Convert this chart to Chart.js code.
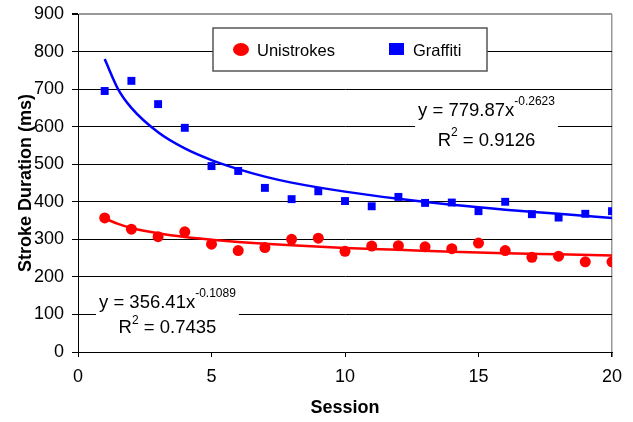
<!DOCTYPE html>
<html>
<head>
<meta charset="utf-8">
<script src="https://cdn.jsdelivr.net/npm/chart.js@4/dist/chart.umd.min.js"></script>
<style>
  body { margin: 0; background: #fff; }
  canvas { display: block; }
</style>
</head>
<body>
<canvas id="strokeChart" width="633" height="422"></canvas>
<script>
const sessions = [1, 2, 3, 4, 5, 6, 7, 8, 9, 10, 11, 12, 13, 14, 15, 16, 17, 18, 19, 20];
const unistrokes = [357, 327, 307, 320, 287, 270, 278, 300, 303, 268, 282, 283, 280, 275, 290, 270, 252, 255, 240, 240];
const graffiti = [695, 722, 660, 597, 495, 482, 437, 407, 428, 402, 388, 413, 397, 398, 375, 400, 367, 358, 368, 375];

// trend curves
const trendX = [1, 1.5, 2, 3, 4, 5, 6, 7, 8, 10, 12, 14, 16, 18, 20];
const graffitiTrend = [780, 700, 650, 585, 542, 511, 487, 467, 451, 427, 408, 392, 379, 368, 357];
const unistrokesTrend = [356, 341, 330, 316, 306, 299, 293, 288, 284, 277, 272, 267, 263, 260, 257];

const graffitiEq = ['y = 779.87x', '-0.2623', 'R', '2', ' = 0.9126'];
const unistrokesEq = ['y = 356.41x', '-0.1089', 'R', '2', ' = 0.7435'];

const FONT = '"Liberation Sans", Arial, sans-serif';

document.addEventListener('DOMContentLoaded', function () {
    const ctx = document.getElementById('strokeChart').getContext('2d');

    function pts(xs, ys) {
        return xs.map((x, i) => ({x: x, y: ys[i]}));
    }

    // draws "y = ...x^exp" and "R^2 = ..." centred on cx, on a white patch
    function drawEquation(c, eq, cx, y1, y2) {
        c.save();
        c.textBaseline = 'middle';
        const big = '18.5px ' + FONT, small = '12px ' + FONT;
        c.font = big;
        const w1 = c.measureText(eq[0]).width;
        const wR = c.measureText(eq[2]).width;
        const w2 = wR + c.measureText(eq[4]).width;
        c.font = small;
        const e1 = c.measureText(eq[1]).width;
        const e2 = c.measureText(eq[3]).width;

        const l1 = w1 + e1, l2 = w2 + e2;
        const boxW = Math.max(l1, l2) + 6;
        c.fillStyle = '#fff';
        c.fillRect(cx - boxW / 2, y1 - 14, boxW, y2 - y1 + 26);

        c.fillStyle = '#000';
        let x = cx - l1 / 2;
        c.font = big;
        c.fillText(eq[0], x, y1);
        c.font = small;
        c.fillText(eq[1], x + w1, y1 - 9);

        x = cx - l2 / 2;
        c.font = big;
        c.fillText(eq[2], x, y2);
        x += wR;
        c.font = small;
        c.fillText(eq[3], x, y2 - 8);
        x += e2;
        c.font = big;
        c.fillText(eq[4], x, y2);
        c.restore();
    }

    const overlay = {
        id: 'overlay',
        beforeDatasetsDraw(chart) {
            const c = chart.ctx;
            const sx = chart.scales.x, sy = chart.scales.y;

            // legend box
            const lx = 213, ly = 28, lw = 274, lh = 43;
            c.save();
            c.fillStyle = '#fff';
            c.fillRect(lx, ly, lw, lh);
            c.strokeStyle = '#555';
            c.lineWidth = 1.5;
            c.strokeRect(lx, ly, lw, lh);
            c.fillStyle = 'rgb(255,0,0)';
            c.beginPath();
            c.ellipse(lx + 28, ly + 21.5, 8, 6.5, 0, 0, Math.PI * 2);
            c.fill();
            c.fillStyle = 'rgb(0,0,255)';
            c.fillRect(lx + 176, ly + 15, 15, 12);
            c.fillStyle = '#000';
            c.font = '16.5px ' + FONT;
            c.textBaseline = 'middle';
            c.fillText(chart.data.datasets[0].label, lx + 44, ly + 23);
            c.fillText(chart.data.datasets[1].label, lx + 200, ly + 23);
            c.restore();

            drawEquation(c, graffitiEq, sx.getPixelForValue(15.3), sy.getPixelForValue(643), sy.getPixelForValue(562));
            drawEquation(c, unistrokesEq, sx.getPixelForValue(3.35), sy.getPixelForValue(130), sy.getPixelForValue(63));
        }
    };

    new Chart(ctx, {
        type: 'scatter',
        data: {
            datasets: [
                {
                    label: 'Unistrokes',
                    data: pts(sessions, unistrokes),
                    backgroundColor: 'rgb(255,0,0)',
                    borderColor: 'rgb(255,0,0)',
                    pointStyle: 'circle',
                    pointRadius: 5.5,
                    borderWidth: 0
                },
                {
                    label: 'Graffiti',
                    data: pts(sessions, graffiti),
                    backgroundColor: 'rgb(0,0,255)',
                    borderColor: 'rgb(0,0,255)',
                    pointStyle: 'rect',
                    pointRadius: 5.6,
                    borderWidth: 0
                },
                {
                    label: 'Unistrokes trend',
                    data: pts(trendX, unistrokesTrend),
                    showLine: true,
                    borderColor: 'rgb(255,0,0)',
                    borderWidth: 2.5,
                    pointRadius: 0,
                    cubicInterpolationMode: 'monotone'
                },
                {
                    label: 'Graffiti trend',
                    data: pts(trendX, graffitiTrend),
                    showLine: true,
                    borderColor: 'rgb(0,0,255)',
                    borderWidth: 2.5,
                    pointRadius: 0,
                    cubicInterpolationMode: 'monotone'
                }
            ]
        },
        options: {
            responsive: false,
            animation: false,
            layout: {padding: {left: 0, right: 21, top: 14, bottom: 0}},
            plugins: {
                legend: {display: false},
                tooltip: {enabled: false}
            },
            scales: {
                x: {
                    type: 'linear',
                    min: 0,
                    max: 20,
                    afterFit: s => { s.height = 70; },
                    ticks: {stepSize: 5, color: '#000', padding: 9, font: {family: FONT, size: 18}},
                    grid: {
                        color: c => c.tick && c.tick.value === 20 ? '#999' : 'rgba(0,0,0,0)',
                        lineWidth: c => c.tick && c.tick.value === 20 ? 1.5 : 1,
                        tickColor: '#000',
                        tickLength: 5
                    },
                    border: {color: '#000', width: 1},
                    title: {
                        display: true,
                        text: 'Session',
                        color: '#000',
                        font: {family: FONT, size: 18, weight: 'bold'},
                        padding: {top: 0, bottom: 3}
                    }
                },
                y: {
                    min: 0,
                    max: 900,
                    afterFit: s => { s.width = 78; s.paddingTop = 0; s.paddingBottom = 0; },
                    ticks: {stepSize: 100, color: '#000', padding: 8, font: {family: FONT, size: 18}},
                    grid: {
                        color: c => c.tick && c.tick.value === 900 ? '#999' : '#000',
                        lineWidth: c => c.tick && c.tick.value === 900 ? 2 : 1,
                        tickColor: '#000',
                        tickLength: 6
                    },
                    border: {color: '#000', width: 1},
                    title: {
                        display: true,
                        text: 'Stroke Duration (ms)',
                        color: '#000',
                        font: {family: FONT, size: 18, weight: 'bold'},
                        padding: {top: 15, bottom: 0}
                    }
                }
            }
        },
        plugins: [overlay]
    });
});
</script>
</body>
</html>
